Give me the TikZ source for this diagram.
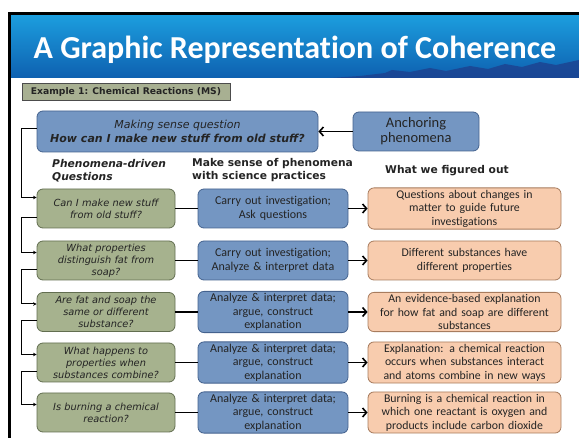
\documentclass[tikz,border=0pt]{standalone}
\usepackage{fontspec}
\setmainfont{Carlito}[Ligatures=NoCommon]
\newfontfamily\vfont{DejaVu Sans}
\usetikzlibrary{arrows.meta,positioning}
\definecolor{hdtop}{RGB}{28,158,222}
\definecolor{hdbot}{RGB}{14,96,176}
\definecolor{hdsky}{RGB}{30,62,140}
\definecolor{exgreen}{RGB}{168,176,146}
\definecolor{qgreen}{RGB}{166,178,142}
\definecolor{qgreenline}{RGB}{98,110,80}
\definecolor{pblue}{RGB}{116,150,194}
\definecolor{pblueline}{RGB}{68,98,142}
\definecolor{forange}{RGB}{248,204,174}
\definecolor{forangeline}{RGB}{168,124,94}
\definecolor{txtdark}{RGB}{36,36,36}

\tikzset{
  qbox/.style={rounded corners=6pt, draw=qgreenline, fill=qgreen, line width=0.8pt,
    minimum width=138pt, minimum height=39pt, text width=134pt, align=center, inner sep=2pt,
    text=txtdark, font=\vfont\itshape\fontsize{9.8}{12}\selectfont},
  pbox/.style={rounded corners=6pt, draw=pblueline, fill=pblue, line width=0.8pt,
    minimum width=150pt, minimum height=39pt, text width=146pt, align=center, inner sep=2pt,
    text=txtdark, font=\fontsize{12}{13.5}\selectfont},
  figbox/.style={rounded corners=6pt, draw=forangeline, fill=forange, line width=0.8pt,
    minimum width=193pt, minimum height=39pt, text width=189pt, align=center, inner sep=2pt,
    text=txtdark, font=\fontsize{11.8}{13.5}\selectfont},
  colhead/.style={anchor=west, align=left, inner sep=0pt, text=txtdark,
    font=\vfont\bfseries\fontsize{10.7}{13}\selectfont},
  link/.style={line width=1.2pt},
  tofig/.style={line width=1.6pt, -{Straight Barb[length=4pt,width=9pt]}},
  nextq/.style={line width=1pt, -{Stealth[length=3.5pt,width=3.5pt]}},
}

\begin{document}
\begin{tikzpicture}[x=1pt, y=-1pt]
\useasboundingbox (0,0) rectangle (579,443);
% slide header
\fill[top color=hdtop, bottom color=hdbot] (10,15) rectangle (579,78);
\fill[hdsky, opacity=0.75] (330,78) -- (360,76) -- (385,73) -- (392,70) -- (410,72) -- (430,68)
  -- (446,71) -- (470,66) -- (488,69) -- (505,64) -- (522,67) -- (540,62) -- (556,65)
  -- (579,60) -- (579,78) -- cycle;
\draw[line width=3pt] (9,438) -- (9,13.5) -- (579,13.5);
\node[font=\bfseries\fontsize{32}{34}\selectfont, text=white] (title) at (295,50)
  {A Graphic Representation of Coherence};
\node[draw=black!70, fill=exgreen, line width=0.8pt, minimum width=208pt, minimum height=17pt,
  inner sep=2pt, text=txtdark, font=\vfont\bfseries\fontsize{9.2}{10}\selectfont] (example) at (126,91.5)
  {Example 1: Chemical Reactions (MS)};

% driving question and anchor
\node[rounded corners=6pt, draw=pblueline, fill=pblue, line width=0.8pt, minimum width=281pt,
  minimum height=41pt, align=center, text=txtdark, font=\vfont\fontsize{11}{13.5}\selectfont] (sense) at (177.5,131.5)
  {\itshape Making sense question\\\bfseries\itshape How can I make new stuff from old stuff?};
\node[rounded corners=6pt, draw=pblueline, fill=pblue, line width=0.8pt, minimum width=126pt,
  minimum height=39pt, align=center, text=txtdark, font=\fontsize{14.5}{15}\selectfont] (anchor) at (416,131.5)
  {Anchoring\\phenomena};
\draw[tofig] (anchor) -- (sense);

% column headings
\node[colhead, font=\vfont\bfseries\itshape\fontsize{10.7}{13}\selectfont] (qhead) at (52,170.5) {Phenomena-driven\\Questions};
\node[colhead] (phead) at (192,170.5) {Make sense of phenomena\\with science practices};
\node[colhead] (fhead) at (385,171) {What we figured out};

% rows
\node[qbox] (q1) at (106,208.5) {Can I make new stuff\\from old stuff?};
\node[qbox] (q2) at (106,260.5) {What properties\\distinguish fat from\\soap?};
\node[qbox] (q3) at (106,312) {Are fat and soap the\\same or different\\substance?};
\node[qbox] (q4) at (106,362.5) {What happens to\\properties when\\substances combine?};
\node[qbox] (q5) at (106,412.5) {Is burning a chemical\\reaction?};

\node[pbox] (p1) at (273,208.5) {Carry out investigation;\\Ask questions};
\node[pbox] (p2) at (273,260.5) {Carry out investigation;\\Analyze \& interpret data};
\node[pbox] (p3) at (273,312) {Analyze \& interpret data;\\argue, construct\\explanation};
\node[pbox] (p4) at (273,362.5) {Analyze \& interpret data;\\argue, construct\\explanation};
\node[pbox] (p5) at (273,412.5) {Analyze \& interpret data;\\argue, construct\\explanation};

\node[figbox] (f1) at (464.5,208.5) {Questions about changes in\\matter to guide future\\investigations};
\node[figbox] (f2) at (464.5,260.5) {Different substances have\\different properties};
\node[figbox] (f3) at (464.5,312) {An evidence-based explanation\\for how fat and soap are different\\substances};
\node[figbox] (f4) at (464.5,362.5) {Explanation: a chemical reaction\\occurs when substances interact\\and atoms combine in new ways};
\node[figbox] (f5) at (464.5,412.5) {Burning is a chemical reaction in\\which one reactant is oxygen and\\products include carbon dioxide};

% connectors
\draw[nextq] ([yshift=3pt]sense.west) -- ++(-15pt,0) |- ([yshift=11pt]q1.west);
\foreach \i [count=\j from 2] in {1,...,4} {
  \draw[nextq] ([yshift=-9pt]q\i.west) -- ++(-15pt,0) |- ([yshift=8pt]q\j.west);
}
\foreach \i in {1,...,5} {
  \draw[link] (q\i) -- (p\i);
  \draw[tofig] (p\i) -- (f\i);
}
\end{tikzpicture}
\end{document}
